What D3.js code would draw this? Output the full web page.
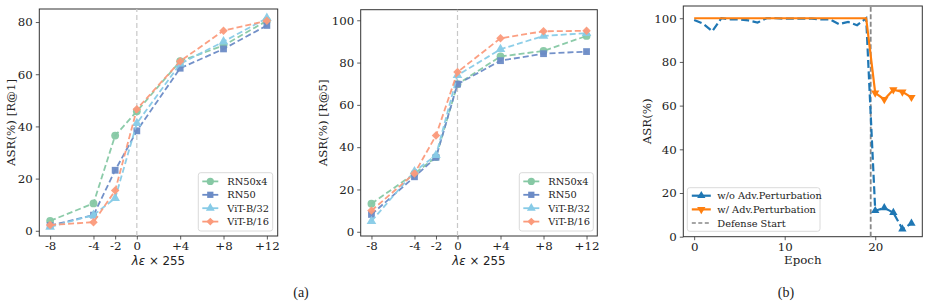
<!DOCTYPE html>
<html>
<head>
<meta charset="utf-8">
<script src="https://cdn.jsdelivr.net/npm/d3@7"></script>
<style>
  body { margin: 0; background: #fff; }
  svg text { fill: #222; }
</style>
</head>
<body>
<div id="chart"></div>
<script>
// ---- data ----
var epsSteps = [-8, -4, -2, 0, 4, 8, 12];
var epsLabels = ["-8", "-4", "-2", "0", "+4", "+8", "+12"];
var modelNames = ["RN50x4", "RN50", "ViT-B/32", "ViT-B/16"];

var r1RN50x4 = [3.8, 10.5, 36.5, 45.8, 65, 71, 80.5];
var r1RN50   = [2.0, 6.0, 23.2, 38.3, 62.3, 69.7, 78.7];
var r1ViTB32 = [1.5, 6.0, 12.5, 41.2, 64, 72.5, 81.5];
var r1ViTB16 = [2.2, 3.3, 15.4, 46.6, 65, 76.7, 80.5];

var r5RN50x4 = [13.3, 27.5, 35.3, 69.8, 82.9, 85.5, 92.6];
var r5RN50   = [8.2, 26.0, 35.2, 69.8, 80.9, 84.2, 85.2];
var r5ViTB32 = [5.0, 28.5, 36.2, 74.0, 86.3, 92.6, 93.9];
var r5ViTB16 = [10.0, 27.6, 45.5, 75.5, 91.5, 94.8, 95.0];

var epochs = d3.range(0, 25);
var woAdv = [99.2, 97.5, 94.0, 100, 99.5, 99.5, 99.0, 98.0, 100, 100, 99.8, 99.8, 99.8, 99.8, 99.5, 99.5, 97.3, 98.3, 96.8, 100,
             11.9, 13.2, 11.0, 3.5, 6.1];
var wAdv  = [100, 100, 100, 100, 100, 100, 100, 100, 100, 100, 100, 100, 100, 100, 100, 100, 100, 100, 100, 100,
             65.8, 62.8, 67.3, 66.3, 63.8];
var defenseStart = 19.5;

var modelColors = ["#86c8a4", "#6b8bc6", "#87cbe7", "#fb9a7b"];
// matplotlib markers: o, s, ^, D  (D = square turned 45 degrees)
var modelShapes = [d3.symbolCircle, d3.symbolSquare, d3.symbolTriangle, d3.symbolSquare];
var modelRot = [0, 0, 0, 45];
var modelSize = [48, 46, 40, 36];

var W = 930, H = 306;
var svg = d3.select("#chart").append("svg")
    .attr("width", W).attr("height", H);

var serif = "'DejaVu Serif', serif";

function symbolPath(shape, size) {
    return d3.symbol().type(shape).size(size)();
}

// draw frame, axes and labels for a panel
function drawFrame(x, y, xTicks, xFmt, yTicks, ylabel, xlabel) {
    var g = svg.append("g");
    var xr = x.range(), yr = y.range();

    var ax = g.append("g").attr("transform", "translate(0," + yr[0] + ")")
        .call(d3.axisBottom(x).tickValues(xTicks).tickFormat(xFmt).tickSize(3.5).tickPadding(2.5));
    var ay = g.append("g").attr("transform", "translate(" + xr[0] + ",0)")
        .call(d3.axisLeft(y).tickValues(yTicks).tickFormat(d3.format("d")).tickSize(3.5).tickPadding(3));
    [ax, ay].forEach(function(a) {
        a.select(".domain").remove();
        a.selectAll("line").attr("stroke", "#333").attr("stroke-width", 0.8);
        a.selectAll("text").attr("font-family", serif).attr("font-size", 11.8).attr("fill", "#222");
    });

    g.append("rect")
        .attr("x", xr[0]).attr("y", yr[1])
        .attr("width", xr[1] - xr[0]).attr("height", yr[0] - yr[1])
        .attr("fill", "none").attr("stroke", "#333").attr("stroke-width", 1);

    g.append("text")
        .attr("transform", "translate(" + ylabel.x + "," + ((yr[0] + yr[1]) / 2) + ") rotate(-90)")
        .attr("text-anchor", "middle")
        .attr("font-family", serif).attr("font-size", 11.8)
        .text(ylabel.text);

    var xl = g.append("text")
        .attr("x", (xr[0] + xr[1]) / 2).attr("y", xlabel.y)
        .attr("text-anchor", "middle")
        .attr("font-size", 11.8);
    if (xlabel.math) {
        xl.attr("font-family", "'DejaVu Sans', sans-serif");
        xl.append("tspan").attr("font-style", "italic").text("λε");
        xl.append("tspan").text(" × 255");
    } else {
        xl.attr("font-family", serif).text(xlabel.text);
    }
    return g;
}

function drawModelPanel(xr, yr, ydom, yTicks, series, ylabelText, ylabelX, legendBox) {
    var x = d3.scaleLinear().domain([-9, 13]).range(xr);
    var y = d3.scaleLinear().domain(ydom).range(yr);

    var g = drawFrame(x, y, epsSteps, function(d, i) { return epsLabels[i]; }, yTicks,
        {text: ylabelText, x: ylabelX}, {math: true, y: 264.5});

    // vertical line at 0
    g.append("line")
        .attr("x1", x(0)).attr("x2", x(0)).attr("y1", yr[0]).attr("y2", yr[1])
        .attr("stroke", "#c8c8c8").attr("stroke-width", 1.2).attr("stroke-dasharray", "5,3");

    var line = d3.line().x(function(d, i) { return x(epsSteps[i]); }).y(function(d) { return y(d); });

    series.forEach(function(vals, k) {
        g.append("path")
            .attr("d", line(vals))
            .attr("fill", "none").attr("stroke", modelColors[k])
            .attr("stroke-width", 1.8).attr("stroke-dasharray", "6,3")
            .attr("opacity", 0.95);
        g.selectAll(null).data(vals).enter().append("path")
            .attr("d", symbolPath(modelShapes[k], modelSize[k]))
            .attr("transform", function(d, i) {
                return "translate(" + x(epsSteps[i]) + "," + y(d) + ") rotate(" + modelRot[k] + ")";
            })
            .attr("fill", modelColors[k]).attr("opacity", 0.95);
    });

    // legend
    var lg = g.append("g");
    lg.append("rect")
        .attr("x", legendBox.x).attr("y", legendBox.y)
        .attr("width", legendBox.w).attr("height", legendBox.h)
        .attr("rx", 2.5)
        .attr("fill", "#fff").attr("fill-opacity", 0.85)
        .attr("stroke", "#d0d0d0").attr("stroke-width", 0.8);
    modelNames.forEach(function(name, k) {
        var cy = legendBox.y + 8.7 + k * 13.4;
        var lx = legendBox.x + 4;
        lg.append("line")
            .attr("x1", lx).attr("x2", lx + 16).attr("y1", cy).attr("y2", cy)
            .attr("stroke", modelColors[k]).attr("stroke-width", 1.8);
        lg.append("path")
            .attr("d", symbolPath(modelShapes[k], modelSize[k] * 0.85))
            .attr("transform", "translate(" + (lx + 8) + "," + cy + ") rotate(" + modelRot[k] + ")")
            .attr("fill", modelColors[k]);
        lg.append("text")
            .attr("x", lx + 25).attr("y", cy + 3.5)
            .attr("font-family", serif).attr("font-size", 9.8)
            .text(name);
    });
}

// ---- panel (a) left: R@1 ----
drawModelPanel([39.3, 277.7], [236, 9], [-2, 85], [0, 20, 40, 60, 80],
    [r1RN50x4, r1RN50, r1ViTB32, r1ViTB16], "ASR(%) [R@1]", 15,
    {x: 198.3, y: 172.7, w: 74.4, h: 58.3});

// ---- panel (a) right: R@5 ----
drawModelPanel([360.7, 597.3], [236, 9.7], [-2, 105], [0, 20, 40, 60, 80, 100],
    [r5RN50x4, r5RN50, r5ViTB32, r5ViTB16], "ASR(%) [R@5]", 327,
    {x: 519.3, y: 172.7, w: 74, h: 58.3});

// ---- panel (b): epochs ----
(function() {
    var x = d3.scaleLinear().domain([-1.2, 25.2]).range([683.3, 922.3]);
    var y = d3.scaleLinear().domain([0, 105.6]).range([236.7, 6]);
    var g = drawFrame(x, y, [0, 10, 20], d3.format("d"), [0, 20, 40, 60, 80, 100],
        {text: "ASR(%)", x: 651}, {text: "Epoch", y: 263.5});

    var blue = "#1f77b4", orange = "#ff7f0e";
    var line = d3.line().x(function(d, i) { return x(epochs[i]); }).y(function(d) { return y(d); });

    g.append("line")
        .attr("x1", x(defenseStart)).attr("x2", x(defenseStart))
        .attr("y1", 236.7).attr("y2", 6)
        .attr("stroke", "#888").attr("stroke-width", 1.8).attr("stroke-dasharray", "5,2.5");

    g.append("path").attr("d", line(woAdv))
        .attr("fill", "none").attr("stroke", blue)
        .attr("stroke-width", 2.2).attr("stroke-dasharray", "8,3.5");
    g.append("path").attr("d", line(wAdv))
        .attr("fill", "none").attr("stroke", orange)
        .attr("stroke-width", 2.2);

    var marked = epochs.filter(function(e) { return e >= 20; });
    g.selectAll(null).data(marked).enter().append("path")
        .attr("d", symbolPath(d3.symbolTriangle, 30))
        .attr("transform", function(e) { return "translate(" + x(e) + "," + y(woAdv[e]) + ")"; })
        .attr("fill", blue);
    g.selectAll(null).data(marked).enter().append("path")
        .attr("d", symbolPath(d3.symbolTriangle, 30))
        .attr("transform", function(e) { return "translate(" + x(e) + "," + y(wAdv[e]) + ") rotate(180)"; })
        .attr("fill", orange);

    // legend
    var lb = {x: 687.3, y: 187.7, w: 132.7, h: 43.6};
    var lg = g.append("g");
    lg.append("rect")
        .attr("x", lb.x).attr("y", lb.y).attr("width", lb.w).attr("height", lb.h)
        .attr("rx", 2.5).attr("fill", "#fff").attr("fill-opacity", 0.85)
        .attr("stroke", "#d0d0d0").attr("stroke-width", 0.8);
    var items = [
        {label: "w/o Adv.Perturbation", color: blue, rot: 0, mark: true},
        {label: "w/ Adv.Perturbation", color: orange, rot: 180, mark: true},
        {label: "Defense Start", color: "#888", dash: "4,2.5", mark: false}
    ];
    items.forEach(function(it, k) {
        var cy = lb.y + 8 + k * 13.7;
        var lx = lb.x + 4.5;
        lg.append("line")
            .attr("x1", lx).attr("x2", lx + 19).attr("y1", cy).attr("y2", cy)
            .attr("stroke", it.color).attr("stroke-width", it.mark ? 2.2 : 1.5)
            .attr("stroke-dasharray", it.dash || null);
        if (it.mark) {
            lg.append("path")
                .attr("d", symbolPath(d3.symbolTriangle, 30))
                .attr("transform", "translate(" + (lx + 9.5) + "," + cy + ") rotate(" + it.rot + ")")
                .attr("fill", it.color);
        }
        lg.append("text")
            .attr("x", lx + 25.5).attr("y", cy + 3.5)
            .attr("font-family", serif).attr("font-size", 9.8)
            .text(it.label);
    });
})();

// ---- captions ----
svg.append("text").attr("x", 301).attr("y", 297).attr("text-anchor", "middle")
    .attr("font-family", "'Liberation Serif', serif").attr("font-size", 14).text("(a)");
svg.append("text").attr("x", 786).attr("y", 297).attr("text-anchor", "middle")
    .attr("font-family", "'Liberation Serif', serif").attr("font-size", 14).text("(b)");
</script>
</body>
</html>
